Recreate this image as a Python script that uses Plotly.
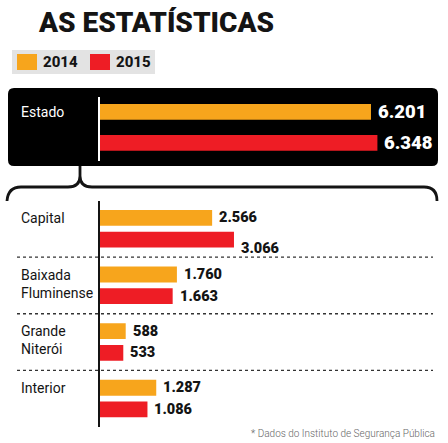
import plotly.graph_objects as go

W, H = 448, 443

title = "AS ESTATÍSTICAS"
years = ["2014", "2015"]
year_colors = ["#F7A51C", "#EE1D25"]

state = ["Estado"]
state_2014 = [6201]
state_2015 = [6348]

regions = ["Capital", "Baixada Fluminense", "Grande Niterói", "Interior"]
region_2014 = [2566, 1760, 588, 1287]
region_2015 = [3066, 1663, 533, 1086]

source = "* Dados do Instituto de Segurança Pública"

FONT = "Roboto"
INK = "#141414"


def px(x):
    return x / W


def py(y):
    return 1 - y / H


def fmt(v):
    return f"{v:,}".replace(",", ".")


def path(points):
    # points in pixels -> svg path in paper units
    out = []
    for cmd, *xy in points:
        coords = []
        for i in range(0, len(xy), 2):
            coords.append(f"{px(xy[i]):.5f},{py(xy[i + 1]):.5f}")
        out.append(cmd + " ".join(coords))
    return " ".join(out)


fig = go.Figure()

# bar geometry (category units)
top_off = [-0.39, 0.094]
top_w = 0.245
bot_off = [-0.333, 0.05]
bot_w = 0.28

for i, (vals, off) in enumerate(zip([state_2014, state_2015], top_off)):
    fig.add_trace(go.Bar(
        x=vals, y=state, orientation="h", xaxis="x", yaxis="y",
        offset=off, width=top_w, marker=dict(color=year_colors[i], line_width=0),
        name=years[i], showlegend=False, hoverinfo="skip",
    ))

for i, (vals, off) in enumerate(zip([region_2014, region_2015], bot_off)):
    fig.add_trace(go.Bar(
        x=vals, y=regions, orientation="h", xaxis="x2", yaxis="y2",
        offset=off, width=bot_w, marker=dict(color=year_colors[i], line_width=0),
        name=years[i], showlegend=False, hoverinfo="skip",
    ))

x_dom = [px(100), px(438)]
x_rng = [0, 338 / 0.0437]

shapes = []
annotations = []

# black box behind the state bars
r = 6
shapes.append(dict(
    type="path", xref="paper", yref="paper", layer="below",
    fillcolor="black", line_width=0,
    path=path([
        ("M", 8 + r, 88), ("L", 438 - r, 88), ("Q", 438, 88, 438, 88 + r),
        ("L", 438, 166 - r), ("Q", 438, 166, 438 - r, 166),
        ("L", 8 + r, 166), ("Q", 8, 166, 8, 166 - r),
        ("L", 8, 88 + r), ("Q", 8, 88, 8 + r, 88),
    ]) + " Z",
))

# curly brace
shapes.append(dict(
    type="path", xref="paper", yref="paper",
    line=dict(color=INK, width=2.8),
    path=path([
        ("M", 7, 201), ("Q", 8, 187, 21, 187), ("L", 68, 187),
        ("Q", 80, 187, 80, 176), ("L", 80, 166),
        ("M", 80, 176), ("Q", 80, 187, 92, 187), ("L", 424, 187),
        ("Q", 437, 187, 437, 201),
    ]),
))

# dotted separators between regions
for i in range(len(regions) - 1):
    shapes.append(dict(
        type="line", xref="paper", yref="y2",
        x0=px(17), x1=px(433), y0=i + 0.5, y1=i + 0.5,
        line=dict(color="#333", width=1.4, dash="dot"),
    ))

# legend
shapes.append(dict(type="rect", xref="paper", yref="paper", layer="below",
                   x0=px(12), x1=px(155), y0=py(74), y1=py(50),
                   fillcolor="#E3E3E3", line_width=0))
for i, (yr, col) in enumerate(zip(years, year_colors)):
    x0 = 17 + i * 73
    shapes.append(dict(type="rect", xref="paper", yref="paper",
                       x0=px(x0), x1=px(x0 + 20), y0=py(70), y1=py(54),
                       fillcolor=col, line_width=0))
    annotations.append(dict(
        xref="paper", yref="paper", x=px(x0 + 24), y=py(62),
        xanchor="left", yanchor="middle", showarrow=False, text=yr,
        font=dict(family=FONT, size=15, color=INK, weight=800),
    ))

# title
annotations.append(dict(
    xref="paper", yref="paper", x=px(36), y=py(22),
    xanchor="left", yanchor="middle", showarrow=False, text=title,
    font=dict(family=FONT, size=28, color=INK, weight=900),
))

# state label and values
annotations.append(dict(
    xref="paper", yref="y", x=px(19), y=top_off[0] + top_w / 2,
    xanchor="left", yanchor="middle", showarrow=False, text=state[0],
    font=dict(family=FONT, size=14, color="white"),
))
for vals, off in zip([state_2014, state_2015], top_off):
    annotations.append(dict(
        xref="x", yref="y", x=vals[0], y=off + top_w / 2, xshift=5,
        xanchor="left", yanchor="middle", showarrow=False, text=fmt(vals[0]),
        font=dict(family=FONT, size=18.5, color="white", weight=900),
    ))

# region labels and values
nudge = {(1, 0): -9}
for j, reg in enumerate(regions):
    annotations.append(dict(
        xref="paper", yref="y2", x=px(19), y=j + bot_off[0], yshift=2,
        xanchor="left", yanchor="top", showarrow=False,
        text=reg.replace(" ", "<br>"), align="left",
        font=dict(family=FONT, size=14, color=INK),
    ))
    for i, (vals, off) in enumerate(zip([region_2014, region_2015], bot_off)):
        annotations.append(dict(
            xref="x2", yref="y2", x=vals[j], y=j + off + bot_w / 2,
            xshift=5, yshift=nudge.get((i, j), 0),
            xanchor="left", yanchor="middle", showarrow=False, text=fmt(vals[j]),
            font=dict(family=FONT, size=14.5, color=INK, weight=900),
        ))

# source note
annotations.append(dict(
    xref="paper", yref="paper", x=px(437), y=py(433),
    xanchor="right", yanchor="middle", showarrow=False, text=source,
    font=dict(family=FONT, size=10, color="#666", weight=300),
))

axis_common = dict(showgrid=False, zeroline=False, showticklabels=False, ticks="")
fig.update_layout(
    width=W, height=H, margin=dict(l=0, r=0, t=0, b=0),
    paper_bgcolor="white", plot_bgcolor="rgba(0,0,0,0)",
    barmode="overlay", showlegend=False,
    xaxis=dict(domain=x_dom, range=x_rng, anchor="y", showline=False, **axis_common),
    yaxis=dict(domain=[py(161), py(97)], type="category", categoryarray=state,
               categoryorder="array", range=[0.5, -0.5], anchor="x",
               showline=True, linecolor="white", linewidth=2, **axis_common),
    xaxis2=dict(domain=x_dom, range=x_rng, anchor="y2", showline=False, **axis_common),
    yaxis2=dict(domain=[py(427), py(200.5)], type="category", categoryarray=regions,
                categoryorder="array", range=[3.5, -0.5], anchor="x2",
                showline=True, linecolor=INK, linewidth=2, **axis_common),
    shapes=shapes,
    annotations=annotations,
)

fig.write_html("out.html", config={"displayModeBar": False},
               post_script="document.body.style.margin='0';")
